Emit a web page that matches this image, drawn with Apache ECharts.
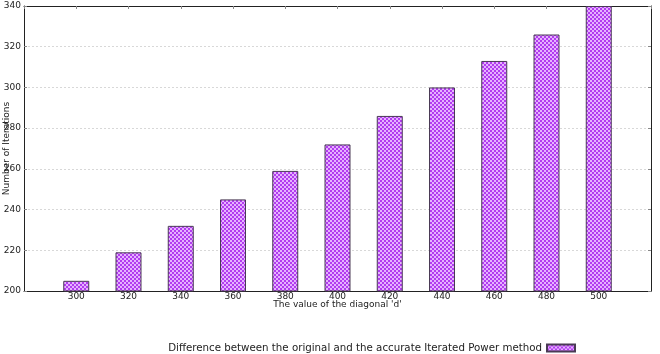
<!DOCTYPE html>
<html lang="en">
<head>
    <meta charset="UTF-8">
    <title>iterations-bar</title>
    <style>
        html, body { margin: 0; padding: 0; background: #fff; }
        #chart { width: 660px; height: 354px; }
    </style>
</head>
<body>
    <div id="chart"></div>
</body>
<script src="https://cdn.jsdelivr.net/npm/echarts@6/dist/echarts.min.js"></script>
<script>
    // 数据
    const diagonals = [300, 320, 340, 360, 380, 400, 420, 440, 460, 480, 500]
    const iterations = [205, 219, 232, 245, 259, 272, 286, 300, 313, 326, 340]
    const seriesName = 'Difference between the original and the accurate Iterated Power method'

    // checker pattern like gnuplot fill
    const pat = document.createElement('canvas')
    pat.width = 4
    pat.height = 4
    const pctx = pat.getContext('2d')
    pctx.fillStyle = '#e6b2ff'
    pctx.fillRect(0, 0, 4, 4)
    pctx.fillStyle = '#b23cf0'
    pctx.fillRect(0, 0, 2, 2)
    pctx.fillRect(2, 2, 2, 2)

    const font = 'DejaVu Sans'
    const chart = echarts.init(document.getElementById('chart'))

    const hideEnds = v => (v < 300 || v > 500) ? '' : String(v)

    chart.setOption({
        animation: false,
        textStyle: { fontFamily: font },
        grid: { left: 24, right: 9, top: 6, bottom: 63, containLabel: false, outerBoundsMode: 'none' },
        legend: {
            right: 79,
            top: 338,
            align: 'right',
            icon: 'rect',
            itemWidth: 28,
            itemHeight: 7,
            itemGap: 6,
            textStyle: { fontFamily: font, fontSize: 10.25, color: '#222' },
            data: [seriesName]
        },
        xAxis: [{
            type: 'value',
            min: 280,
            max: 520,
            interval: 20,
            name: "The value of the diagonal 'd'",
            nameLocation: 'middle',
            nameGap: 9,
            nameMoveOverlap: false,
            nameTextStyle: { fontFamily: font, fontSize: 9, color: '#222', verticalAlign: 'top' },
            axisLine: { lineStyle: { color: '#222', width: 1 } },
            axisTick: { inside: true, length: 3, lineStyle: { color: '#222' } },
            axisLabel: { formatter: hideEnds, fontSize: 9, color: '#222', margin: 1 },
            splitLine: { show: false }
        }, {
            type: 'value',
            position: 'top',
            min: 280,
            max: 520,
            interval: 20,
            axisLine: { show: true, lineStyle: { color: '#222', width: 1 } },
            axisTick: { inside: true, length: 3, lineStyle: { color: '#888' } },
            axisLabel: { show: false },
            splitLine: { show: false }
        }],
        yAxis: [{
            type: 'value',
            min: 200,
            max: 340,
            interval: 20,
            name: 'Number of Iterations',
            nameLocation: 'middle',
            nameGap: 13,
            nameMoveOverlap: false,
            nameTextStyle: { fontFamily: font, fontSize: 9, color: '#222' },
            axisLine: { show: true, lineStyle: { color: '#222', width: 1 } },
            axisTick: { show: true, inside: true, length: 3, lineStyle: { color: '#888' } },
            axisLabel: { fontSize: 9, color: '#222', margin: 3 },
            splitLine: { show: true, lineStyle: { color: '#d8d8d8', type: [2, 2], width: 1 } }
        }, {
            type: 'value',
            position: 'right',
            min: 200,
            max: 340,
            interval: 20,
            axisLine: { show: true, lineStyle: { color: '#222', width: 1 } },
            axisTick: { show: true, inside: true, length: 3, lineStyle: { color: '#888' } },
            axisLabel: { show: false },
            splitLine: { show: false }
        }],
        series: [{
            name: seriesName,
            type: 'bar',
            xAxisIndex: 0,
            yAxisIndex: 0,
            barWidth: 26,
            data: diagonals.map((d, i) => [d, iterations[i]]),
            itemStyle: {
                color: { image: pat, repeat: 'repeat' },
                borderColor: '#4a3a55',
                borderWidth: 1
            }
        }]
    })
</script>
</html>
